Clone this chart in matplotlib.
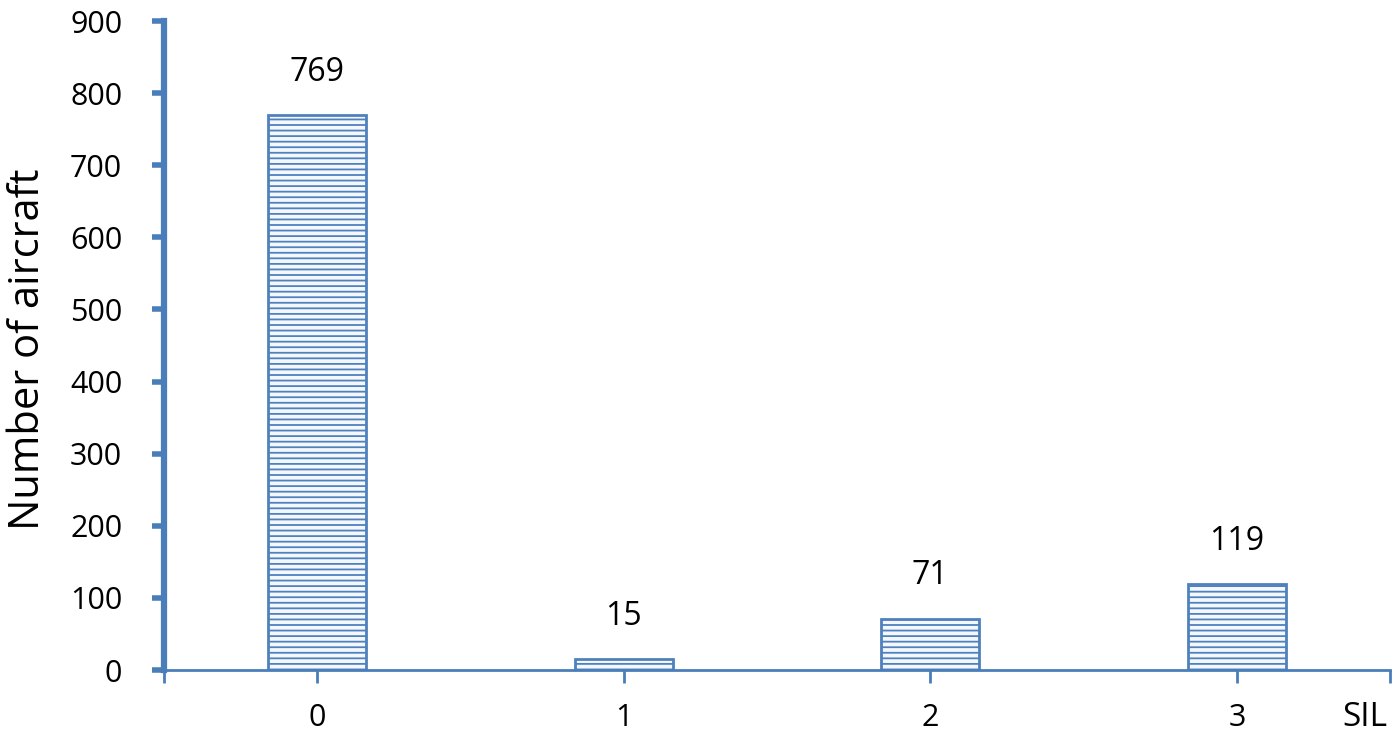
import matplotlib.pyplot as plt
import numpy as np

plt.rcParams['font.family'] = ['Open Sans', 'DejaVu Sans']
plt.rcParams['hatch.linewidth'] = 1.3

categories = ['0', '1', '2', '3']
counts = [769, 15, 71, 119]

blue = '#4a7ebb'
bar_edge = '#4f81bd'

fig = plt.figure(figsize=(14, 7.35), dpi=100)
ax = fig.add_axes([0.117, 0.0884, 0.876, 0.883])

x = np.arange(len(categories))
bars = ax.bar(x, counts, width=0.32, color='#f4f8fc', edgecolor=bar_edge,
              linewidth=2, hatch='---')
for b, v in zip(bars, counts):
    ax.annotate(str(v), (b.get_x() + b.get_width() / 2, v), xytext=(0, 31),
                textcoords='offset points', ha='center', va='center', fontsize=23)

ax.set_xlim(-0.5, 3.5)
ax.set_ylim(0, 900)
ax.set_yticks(np.arange(0, 901, 100))
ax.set_xticks(x)
ax.set_xticklabels(categories)
ax.set_xticks([-0.5, 3.5], minor=True)

for s in ['top', 'right']:
    ax.spines[s].set_visible(False)
ax.spines['left'].set_linewidth(4.5)
ax.spines['left'].set_color(blue)
ax.spines['bottom'].set_linewidth(2)
ax.spines['bottom'].set_color(blue)

ax.tick_params(axis='y', length=9, width=4, color=blue, labelsize=22, pad=21)
ax.tick_params(axis='x', which='major', length=9, width=2, color=blue, labelsize=22, pad=15)
ax.tick_params(axis='x', which='minor', length=9, width=2, color=blue)

fig.text(28 / 1400, 1 - 349 / 735, 'Number of aircraft', fontsize=30,
         rotation=90, ha='center', va='center')
fig.text(1365 / 1400, 1 - 718 / 735, 'SIL', fontsize=24, ha='center', va='center')

fig.savefig('out.png', dpi=100)
